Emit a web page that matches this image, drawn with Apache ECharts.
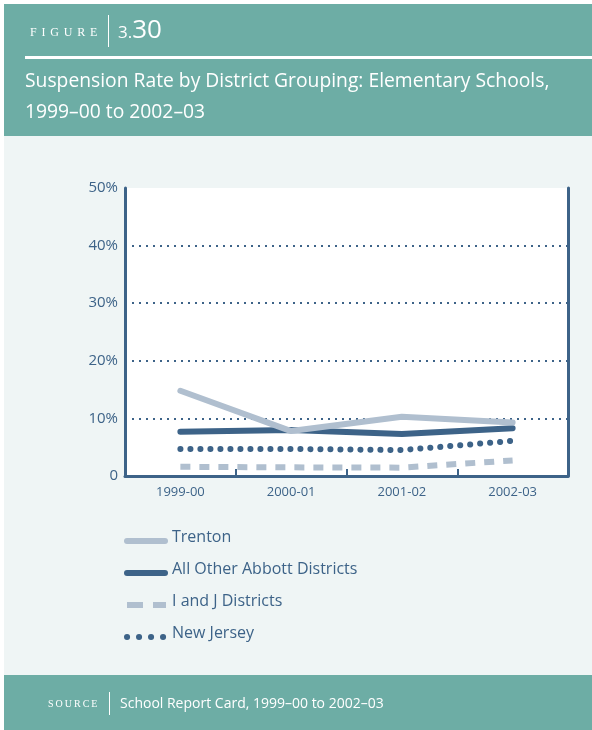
<!DOCTYPE html>
<html><head><meta charset="utf-8">
<script src="https://cdn.jsdelivr.net/npm/echarts@6/dist/echarts.min.js"></script>
<style>html,body{margin:0;padding:0;background:#fff}#c{width:592px;height:730px}</style>
</head><body><div id="c"></div>
<script>
const categories = ['1999-00', '2000-01', '2001-02', '2002-03'];
const seriesNames = ['Trenton', 'All Other Abbott Districts', 'I and J Districts', 'New Jersey'];
const trenton = [14.8, 7.8, 10.3, 9.3];
const abbott = [7.7, 8.0, 7.3, 8.3];
const iandj = [1.6, 1.5, 1.45, 2.7];
const newJersey = [4.7, 4.7, 4.5, 6.1];
const yTicks = [0, 10, 20, 30, 40, 50];
const gridLines = [10, 20, 30, 40];

const DARK = '#3d6388', LIGHT = '#b0bfcf', TEAL = '#6dada5', PALE = '#eff5f5';
const FONT = '"Open Sans", "Noto Sans", sans-serif';
const chart = echarts.init(document.getElementById('c'), null, {renderer: 'canvas'});

// legend drawn as graphics (icon styles matching the series)
const legendStyles = [
  {stroke: LIGHT, lineWidth: 6, lineCap: 'round'},
  {stroke: DARK, lineWidth: 6, lineCap: 'round'},
  {stroke: LIGHT, lineWidth: 6, lineCap: 'butt', lineDash: [16, 10]},
  {stroke: DARK, lineWidth: 6, lineCap: 'round', lineDash: [0.1, 11.9]}
];
const legendGraphics = [];
seriesNames.forEach((name, i) => {
  const y = 537 + i * 32;
  legendGraphics.push({type: 'line', shape: {x1: 127, y1: y + 4, x2: i === 2 ? 166 : (i === 3 ? 167 : 165), y2: y + 4}, style: legendStyles[i]});
  legendGraphics.push({type: 'text', style: {x: 172, y: y, text: name, fill: DARK, font: '16px ' + FONT, verticalAlign: 'middle'}});
});

chart.setOption({
  animation: false,
  textStyle: {fontFamily: FONT},
  graphic: [
    {type: 'rect', z: -10, shape: {x: 0, y: 0, width: 592, height: 730}, style: {fill: '#fff'}},
    {type: 'rect', z: -9, shape: {x: 4, y: 4, width: 588, height: 132}, style: {fill: TEAL}},
    {type: 'rect', z: -9, shape: {x: 4, y: 136, width: 588, height: 539}, style: {fill: PALE}},
    {type: 'rect', z: -9, shape: {x: 4, y: 675, width: 588, height: 55}, style: {fill: TEAL}},
    {type: 'rect', z: -8, shape: {x: 125, y: 188, width: 443, height: 288}, style: {fill: '#fff'}},
    {type: 'rect', z: -8, shape: {x: 25, y: 56, width: 567, height: 3}, style: {fill: '#fff'}},
    {type: 'line', z: -8, shape: {x1: 108.5, y1: 15, x2: 108.5, y2: 47}, style: {stroke: '#fff', lineWidth: 1}},
    {type: 'text', style: {x: 30, y: 33, text: 'F\u2009\u2009I\u2009\u2009G\u2009\u2009U\u2009\u2009R\u2009\u2009E', fill: '#fff', font: '12px "Liberation Serif", serif', verticalAlign: 'middle'}},
    {type: 'text', style: {x: 118, y: 31, text: '{a|3.}{b|30}', fill: '#fff', verticalAlign: 'middle',
      rich: {a: {fontSize: 17, fontFamily: FONT, fill: '#fff', padding: [5, 0, 0, 0]}, b: {fontSize: 26, fontFamily: FONT, fill: '#fff'}}}},
    {type: 'text', style: {x: 25, y: 82, text: 'Suspension Rate by District Grouping: Elementary Schools,', fill: '#fff', font: '19.3px ' + FONT, verticalAlign: 'middle'}},
    {type: 'text', style: {x: 25, y: 113, text: '1999\u201300 to 2002\u201303', fill: '#fff', font: '19.3px ' + FONT, verticalAlign: 'middle'}},
    {type: 'text', style: {x: 48, y: 704, text: 'S\u2009O\u2009U\u2009R\u2009C\u2009E', fill: '#fff', font: '10px "Liberation Serif", serif', verticalAlign: 'middle'}},
    {type: 'line', shape: {x1: 109.5, y1: 692, x2: 109.5, y2: 715}, style: {stroke: '#fff', lineWidth: 1}},
    {type: 'text', style: {x: 120, y: 704, text: 'School Report Card, 1999\u201300 to 2002\u201303', fill: '#fff', font: '14px ' + FONT, verticalAlign: 'middle'}}
  ].concat(legendGraphics),
  grid: {left: 125, right: 24, top: 188, bottom: 254, containLabel: false},
  xAxis: {
    type: 'category', data: categories, boundaryGap: true,
    axisLine: {lineStyle: {color: DARK, width: 3}},
    axisTick: {show: true, inside: true, length: 7, interval: 0, lineStyle: {color: DARK, width: 2}},
    axisLabel: {color: DARK, fontSize: 13, margin: 10, fontFamily: FONT},
    splitLine: {show: false}
  },
  yAxis: [
    {type: 'value', min: yTicks[0], max: yTicks[yTicks.length - 1], interval: 10,
      axisLine: {show: true, lineStyle: {color: DARK, width: 3}},
      axisTick: {show: false},
      axisLabel: {color: DARK, fontSize: 15, margin: 7, fontFamily: FONT, formatter: v => v === 0 ? '0' : v + '%'},
      splitLine: {show: false}},
    {type: 'value', position: 'right', min: yTicks[0], max: yTicks[yTicks.length - 1], interval: 10,
      axisLine: {show: true, onZero: false, lineStyle: {color: DARK, width: 3}},
      axisTick: {show: false}, axisLabel: {show: false}, splitLine: {show: false}}
  ],
  series: [
    {name: seriesNames[0], type: 'line', data: trenton, symbol: 'none', z: 5,
      itemStyle: {color: LIGHT}, lineStyle: {color: LIGHT, width: 6, cap: 'round', join: 'round'},
      markLine: {silent: true, symbol: 'none', label: {show: false}, z: 1,
        lineStyle: {color: DARK, width: 2, type: [2, 5]},
        data: gridLines.map(v => ({yAxis: v}))}},
    {name: seriesNames[1], type: 'line', data: abbott, symbol: 'none', z: 4,
      itemStyle: {color: DARK}, lineStyle: {color: DARK, width: 6, cap: 'round', join: 'round'}},
    {name: seriesNames[2], type: 'line', data: iandj, symbol: 'none', z: 3,
      itemStyle: {color: LIGHT}, lineStyle: {color: LIGHT, width: 6, type: [10, 9], cap: 'butt'}},
    {name: seriesNames[3], type: 'line', data: newJersey, symbol: 'none', z: 3,
      itemStyle: {color: DARK}, lineStyle: {color: DARK, width: 6, type: [0.1, 9.9], cap: 'round'}}
  ]
});
</script></body></html>
